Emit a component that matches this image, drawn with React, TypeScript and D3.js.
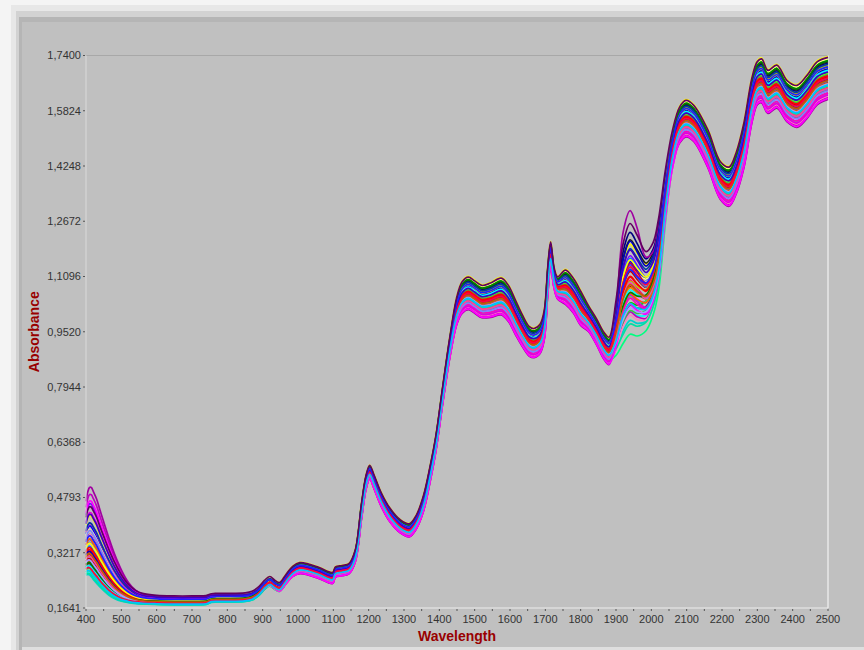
import React from 'react';
import * as d3 from 'd3';

const WAVELENGTHS = [
  400, 405, 410, 415, 420, 430, 440, 450, 465, 480, 500, 520, 540, 560, 600, 650, 700, 740, 755, 770, 800, 850,
  870, 890, 905, 920, 935, 948, 965, 985, 1005, 1030, 1060, 1098, 1106, 1125, 1145, 1162, 1180, 1193, 1203, 1215,
  1235, 1260, 1290, 1315, 1335, 1355, 1375, 1390, 1410, 1430, 1450, 1465, 1482, 1500, 1520, 1545, 1575, 1595, 1615,
  1635, 1655, 1668, 1685, 1697, 1707, 1715, 1725, 1735, 1757, 1780, 1800, 1822, 1845, 1865, 1880, 1900, 1920, 1940,
  1960, 1985, 2005, 2020, 2040, 2060, 2080, 2098, 2120, 2160, 2195, 2220, 2240, 2262, 2285, 2300, 2312, 2330, 2355,
  2385, 2412, 2440, 2470, 2500,
];

// Lowest spectrum of the set (bottom envelope)
const BASE_ABS = [
  0.248, 0.25, 0.248, 0.243, 0.236, 0.225, 0.214, 0.205, 0.193, 0.185, 0.178, 0.175, 0.173, 0.172, 0.171, 0.17, 0.17, 0.171, 0.177, 0.178, 0.178, 0.179,
  0.183, 0.196, 0.212, 0.222, 0.212, 0.207, 0.228, 0.252, 0.262, 0.258, 0.248, 0.234, 0.252, 0.256, 0.262, 0.295, 0.42, 0.505, 0.532, 0.505,
  0.455, 0.41, 0.378, 0.367, 0.39, 0.44, 0.53, 0.61, 0.75, 0.88, 0.975, 1.005, 1.015, 1.005, 0.992, 0.993, 1.0, 0.982, 0.945,
  0.91, 0.882, 0.878, 0.89, 0.93, 1.06, 1.135, 1.075, 1.045, 1.03, 1.005, 0.97, 0.953, 0.915, 0.875, 0.858, 0.872, 0.905, 0.93,
  0.925, 0.94, 0.985, 1.05, 1.25, 1.41, 1.49, 1.508, 1.495, 1.42, 1.33, 1.31, 1.345, 1.42, 1.55, 1.6, 1.605, 1.575, 1.59,
  1.55, 1.535, 1.56, 1.6, 1.615,
];

// Spread of the baseline / scatter effect across the samples
const SCATTER_SPREAD = [
  0.01, 0.01, 0.01, 0.01, 0.01, 0.01, 0.01, 0.01, 0.01, 0.01, 0.01, 0.01, 0.01, 0.01, 0.01, 0.01, 0.01, 0.01, 0.01, 0.01, 0.01, 0.012,
  0.014, 0.018, 0.022, 0.025, 0.025, 0.026, 0.028, 0.03, 0.032, 0.032, 0.032, 0.032, 0.03, 0.03, 0.03, 0.035, 0.045, 0.04, 0.04, 0.04,
  0.04, 0.04, 0.038, 0.038, 0.04, 0.045, 0.045, 0.045, 0.05, 0.06, 0.08, 0.092, 0.095, 0.094, 0.094, 0.1, 0.107, 0.105, 0.1,
  0.092, 0.086, 0.085, 0.085, 0.085, 0.08, 0.075, 0.06, 0.065, 0.1, 0.1, 0.1, 0.075, 0.075, 0.078, 0.08, 0.085, 0.09, 0.1,
  0.1, 0.1, 0.1, 0.1, 0.1, 0.1, 0.105, 0.106, 0.105, 0.11, 0.11, 0.114, 0.12, 0.13, 0.13, 0.125, 0.128, 0.125, 0.125,
  0.12, 0.122, 0.125, 0.125, 0.122,
];

// Spread of the water band (around 1940 nm)
const WATER_SPREAD = [
  0, 0, 0, 0, 0, 0, 0, 0, 0, 0, 0, 0, 0, 0, 0, 0, 0, 0, 0, 0, 0, 0,
  0, 0, 0, 0, 0, 0, 0, 0, 0, 0, 0, 0, 0, 0, 0, 0, 0, 0, 0, 0,
  0, 0, 0, 0, 0, 0, 0, 0, 0, 0, 0, 0, 0, 0, 0, 0, 0, 0, 0,
  0, 0, 0, 0, 0, 0, 0, 0, 0, 0, 0, 0, 0, 0, 0, 0, 0.09, 0.22, 0.245,
  0.215, 0.15, 0.13, 0.13, 0.07, 0.02, 0, 0, 0, 0, 0, 0, 0, 0, 0, 0, 0, 0, 0,
  0, 0, 0, 0, 0,
];

// Spread of the visible (colour) band below 900 nm
const VISIBLE_SPREAD = [
  0.22, 0.245, 0.26, 0.265, 0.262, 0.25, 0.228, 0.205, 0.17, 0.135, 0.095, 0.062, 0.042, 0.032, 0.026, 0.025, 0.025, 0.025, 0.024, 0.024, 0.024, 0.022,
  0.02, 0.016, 0.012, 0.01, 0.008, 0.006, 0.004, 0.002, 0, 0, 0, 0, 0, 0, 0, 0, 0, 0, 0, 0,
  0, 0, 0, 0, 0, 0, 0, 0, 0, 0, 0, 0, 0, 0, 0, 0, 0, 0, 0,
  0, 0, 0, 0, 0, 0, 0, 0, 0, 0, 0, 0, 0, 0, 0, 0, 0, 0, 0, 0,
  0, 0, 0, 0, 0, 0, 0, 0, 0, 0, 0, 0, 0, 0, 0, 0, 0, 0, 0,
  0, 0, 0, 0, 0,
];

// One entry per sample spectrum
const SAMPLE_COLORS = [
  '#ff0000', '#0000ff', '#00c000', '#ffff00', '#ff00ff', '#00ffff', '#000080', '#800000', '#ff80ff', '#8000ff',
  '#008080', '#ff8000', '#c000c0', '#00ff80', '#ff0080', '#4040ff', '#202020', '#80ff00', '#ff4040', '#00a0ff',
  '#a000a0', '#ffff80', '#0080ff', '#ff00c0', '#00d0d0', '#c00000', '#6060c0', '#c0c000', '#ff80c0', '#0000c0',
  '#40c040', '#e000e0', '#ff6000', '#00e0a0', '#8080ff', '#b00050', '#00ffff', '#ff0000', '#0040a0', '#ffff00',
  '#ff00ff', '#008000', '#ff40a0', '#4000c0', '#a0a0ff', '#c06000', '#ff0040', '#2020ff', '#00c0ff', '#600060',
];
const SAMPLE_SCATTER = [
  0.45, 0.7, 0.92, 1.0, 0.12, 0.3, 0.85, 0.4, 0.18, 0.55,
  0.62, 0.5, 0.05, 0.15, 0.22, 0.78, 0.88, 0.6, 0.28, 0.48,
  0.0, 0.95, 0.65, 0.15, 0.25, 0.52, 0.42, 0.8, 0.08, 0.72,
  0.58, 0.1, 0.38, 0.32, 0.2, 0.46, 0.68, 0.55, 0.82, 0.75,
  0.02, 0.9, 0.26, 0.64, 0.36, 0.44, 0.5, 0.76, 0.34, 0.98,
];
const SAMPLE_WATER = [
  0.55, 0.62, 0.05, 0.7, 0.35, 0.2, 0.9, 0.45, 0.5, 0.75,
  0.15, 0.4, 0.3, 0.0, 0.6, 0.55, 0.8, 0.25, 0.52, 0.32,
  1.5, 0.45, 0.68, 0.42, 0.12, 0.58, 0.65, 0.35, 0.25, 0.85,
  0.1, 0.48, 0.38, 0.05, 0.58, 0.7, 0.3, 0.5, 0.72, 0.62,
  0.4, 0.18, 0.55, 0.78, 0.22, 0.46, 0.64, 0.5, 0.28, 0.95,
];
const SAMPLE_VISIBLE = [
  0.3, 0.55, 0.1, 0.65, 0.2, 0.05, 0.45, 0.15, 0.35, 0.8,
  0.12, 0.25, 0.92, 0.08, 0.18, 0.4, 0.22, 0.06, 0.28, 0.12,
  1.0, 0.5, 0.33, 0.6, 0.03, 0.2, 0.38, 0.15, 0.48, 0.27,
  0.09, 0.72, 0.42, 0.04, 0.52, 0.16, 0.11, 0.32, 0.58, 0.36,
  0.85, 0.14, 0.24, 0.68, 0.19, 0.26, 0.1, 0.44, 0.07, 0.75,
];

const Y_TICKS = [0.1641, 0.3217, 0.4793, 0.6368, 0.7944, 0.952, 1.1096, 1.2672, 1.4248, 1.5824, 1.74];
const Y_TICK_LABELS = ['0,1641', '0,3217', '0,4793', '0,6368', '0,7944', '0,9520', '1,1096', '1,2672', '1,4248', '1,5824', '1,7400'];
const X_TICKS = [400, 500, 600, 700, 800, 900, 1000, 1100, 1200, 1300, 1400, 1500, 1600, 1700, 1800, 1900, 2000, 2100, 2200, 2300, 2400, 2500];
const X_MINOR_TICKS = [450, 550, 650, 750, 850, 950, 1050, 1150, 1250, 1350, 1450, 1550, 1650, 1750, 1850, 1950, 2050, 2150, 2250, 2350, 2450];

const W = 864;
const H = 650;
const PL = 86;
const PR = 828;
const PT = 55.5;
const PB = 608;

export default function App() {
  const x = d3.scaleLinear().domain([400, 2500]).range([PL, PR]);
  const y = d3.scaleLinear().domain([0.1641, 1.74]).range([PB, PT]);
  const line = d3
    .line<[number, number]>()
    .x((d) => x(d[0]))
    .y((d) => y(d[1]))
    .curve(d3.curveCatmullRom.alpha(0.5));

  const spectra = SAMPLE_COLORS.map((color, i) => {
    const pts: [number, number][] = WAVELENGTHS.map((w, k) => [
      w,
      BASE_ABS[k] +
        SAMPLE_SCATTER[i] * SCATTER_SPREAD[k] +
        SAMPLE_WATER[i] * WATER_SPREAD[k] +
        SAMPLE_VISIBLE[i] * VISIBLE_SPREAD[k],
    ]);
    return { color, d: line(pts) || '' };
  });

  const font = '"Liberation Sans", Arial, Helvetica, sans-serif';

  return (
    <svg
      width={W}
      height={H}
      style={{ position: 'absolute', left: 0, top: 0, fontFamily: font }}
    >
      {/* outer soft shadow frame */}
      <rect x={0} y={0} width={W} height={H} fill="#f4f4f4" />
      <rect x={11} y={5} width={W - 11} height={H - 5} fill="#e7e7e7" />
      <rect x={16} y={11} width={W - 16} height={H - 11} fill="#d2d2d2" />
      <rect x={19} y={17} width={W - 19} height={H - 17} fill="#b5b5b5" />
      <rect x={22} y={22} width={W - 22} height={625} fill="#c0c0c0" />
      <rect x={22} y={647} width={W - 22} height={3} fill="#dedede" />

      {/* plot frame */}
      <line x1={PL} x2={PR} y1={PT} y2={PT} stroke="#a8a8a8" strokeWidth={1} />
      <line x1={PR} x2={PR} y1={PT} y2={PB} stroke="#f2f2f2" strokeWidth={1.2} />

      {/* spectra */}
      <g fill="none" strokeWidth={1.7} strokeLinejoin="round">
        {spectra.map((s, i) => (
          <path key={i} d={s.d} stroke={s.color} />
        ))}
      </g>

      {/* axes lines */}
      <line x1={PL} x2={PL} y1={PT} y2={PB} stroke="#dadada" strokeWidth={1} />
      <line x1={PL} x2={PR} y1={PB} y2={PB} stroke="#ececec" strokeWidth={1.2} />

      {/* y ticks */}
      {Y_TICKS.map((t, i) => (
        <g key={'y' + i}>
          <line x1={PL - 3} x2={PL - 1} y1={y(t)} y2={y(t)} stroke="#555" strokeWidth={1} />
          <text x={PL - 5} y={y(t)} dy="0.35em" textAnchor="end" fontSize={11} fill="#333">
            {Y_TICK_LABELS[i]}
          </text>
        </g>
      ))}

      {/* x ticks */}
      {X_MINOR_TICKS.map((t) => (
        <line key={'xm' + t} x1={x(t)} x2={x(t)} y1={PB + 1} y2={PB + 3} stroke="#555" strokeWidth={1} />
      ))}
      {X_TICKS.map((t) => (
        <g key={'x' + t}>
          <line x1={x(t)} x2={x(t)} y1={PB + 1} y2={PB + 3} stroke="#555" strokeWidth={1} />
          <text x={x(t)} y={PB + 15} textAnchor="middle" fontSize={11} fill="#333">
            {t}
          </text>
        </g>
      ))}

      {/* axis titles */}
      <text x={(PL + PR) / 2} y={641} textAnchor="middle" fontSize={14} fontWeight="bold" fill="#990000">
        Wavelength
      </text>
      <text
        transform={`translate(39, ${(PT + PB) / 2}) rotate(-90)`}
        textAnchor="middle"
        fontSize={14}
        fontWeight="bold"
        fill="#990000"
      >
        Absorbance
      </text>
    </svg>
  );
}
